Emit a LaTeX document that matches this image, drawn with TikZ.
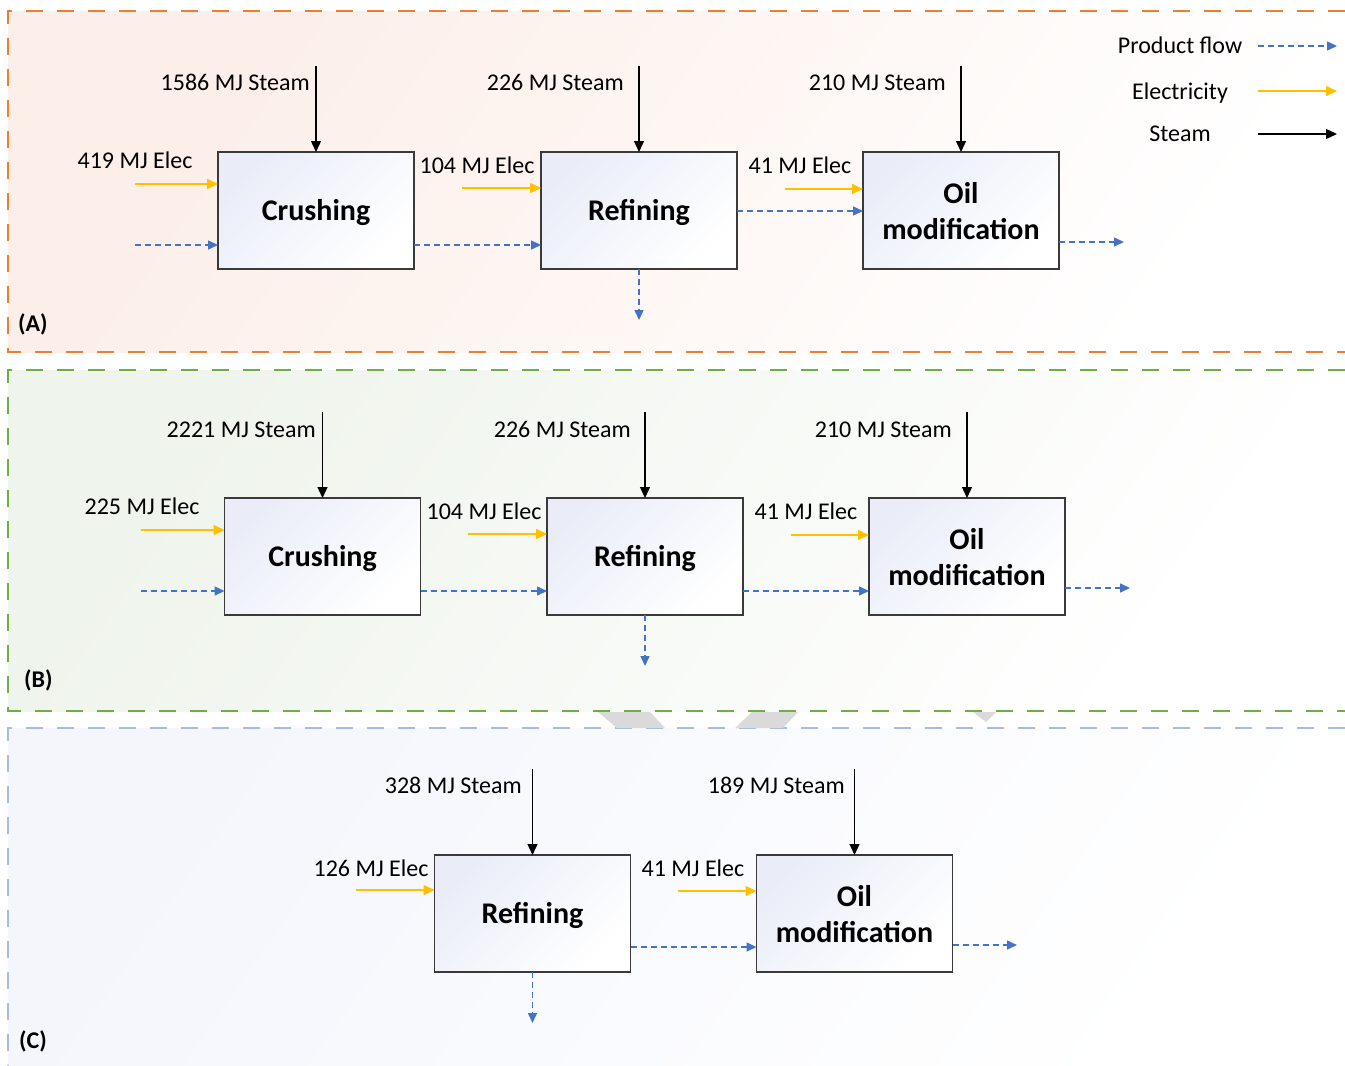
\documentclass[tikz,border=0pt]{standalone}
\usepackage{fontspec}
\setmainfont{Carlito}
\usetikzlibrary{arrows.meta,calc}
\definecolor{pflow}{HTML}{4472C4}
\definecolor{elec}{HTML}{FFC000}
\definecolor{oA}{HTML}{ED7D31}
\definecolor{gB}{HTML}{70AD47}
\definecolor{bC}{HTML}{A6BBDF}
\definecolor{bxline}{HTML}{3A3A3A}
\definecolor{bxfill}{HTML}{EAEDF8}
\definecolor{pinkA}{HTML}{FCEEE8}
\definecolor{pinkAm}{HTML}{FEF8F6}
\definecolor{greenB}{HTML}{EFF4EC}
\definecolor{greenBm}{HTML}{F9FBF8}
\definecolor{blueC}{HTML}{F4F6FC}
\definecolor{blueCm}{HTML}{FBFCFE}
\definecolor{ghost}{HTML}{DADADA}
\begin{document}
\begin{tikzpicture}[x=1pt,y=-1pt,
  procbox/.style={draw=bxline, line width=1.2pt, outer sep=0pt, minimum width=196pt, minimum height=117pt, inner sep=0pt, top color=bxfill, bottom color=white, shading angle=45},
  boxtxt/.style={font=\fontsize{30}{36}\selectfont\bfseries, inner sep=0pt, anchor=base},
  lbl/.style={font=\fontsize{24}{28}\selectfont, inner sep=0pt, anchor=base},
  lble/.style={font=\fontsize{24}{28}\selectfont, inner sep=0pt, anchor=base east},
  plbl/.style={font=\fontsize{24}{28}\selectfont\bfseries, inner sep=0pt, anchor=base west},
  flow/.style={draw=pflow, line width=1.5pt, dash pattern=on 6pt off 4pt, -{Triangle[length=10pt,width=9pt,fill=pflow]}},
  el/.style={draw=elec, line width=1.6pt, -{Triangle[length=11pt,width=10pt,fill=elec]}},
  st/.style={draw=black, line width=1.3pt, -{Triangle[length=11pt,width=10pt,fill=black]}},
  panelline/.style={line width=1.3pt, dash pattern=on 17pt off 14pt}
]
\useasboundingbox (0,0) rectangle (1345,1066);
% panel backgrounds
\shade[top color=pinkA, middle color=pinkAm, bottom color=white, shading angle=55] (8,11) rectangle (1345,352);
\shade[top color=greenB, middle color=greenBm, bottom color=white, shading angle=55] (8,370) rectangle (1345,711);
\shade[top color=blueC, middle color=blueCm, bottom color=white, shading angle=55] (8,728) rectangle (1345,1066);
% panel borders
\draw[panelline, draw=oA] (1345,11) -- (8,11) -- (8,352) -- (1345,352);
\draw[panelline, draw=gB] (1345,370) -- (8,370) -- (8,711) -- (1345,711);
\draw[panelline, draw=bC] (1345,728) -- (8,728) -- (8,1066);
% grey remnants between B and C
\fill[ghost] (598,712) -- (650,712) -- (665,728) -- (617,728) -- cycle;
\fill[ghost] (752,712) -- (798,712) -- (783,728) -- (735,728) -- cycle;
\fill[ghost] (973,712) -- (996,712) -- (986,722) -- cycle;

% ---------------- Legend ----------------
\node[lbl] (lgp) at (1180,53) {Product flow};
\node[lbl] (lge) at (1180,99) {Electricity};
\node[lbl] (lgs) at (1180,141) {Steam};
\coordinate (lgp1) at (1258,46); \coordinate (lgp2) at (1337,46);
\coordinate (lge1) at (1258,91); \coordinate (lge2) at (1337,91);
\coordinate (lgs1) at (1258,134); \coordinate (lgs2) at (1337,134);
\draw[flow] (lgp1) -- (lgp2);
\draw[el] (lge1) -- (lge2);
\draw[st] (lgs1) -- (lgs2);

% ---------------- Panel A ----------------
\node[procbox] (crA) at (316,210.5) {};
\node[procbox] (rfA) at (639,210.5) {};
\node[procbox] (omA) at (961,210.5) {};
\node[boxtxt] (crAt) at (316,220) {Crushing};
\node[boxtxt] (rfAt) at (639,220) {Refining};
\node[boxtxt] (omAt1) at (961,203) {Oil};
\node[boxtxt] (omAt2) at (961,239) {modification};
\node[plbl] (labA) at (18,331) {(A)};

\node[lble] (sAl1) at (310,90) {1586 MJ Steam};
\node[lble] (sAl2) at (624,90) {226 MJ Steam};
\node[lble] (sAl3) at (946,90) {210 MJ Steam};
\coordinate (sA1) at (316,66); \coordinate (sA2) at (639,66); \coordinate (sA3) at (961,66);
\draw[st] (sA1) -- (crA.north);
\draw[st] (sA2) -- (rfA.north);
\draw[st] (sA3) -- (omA.north);

\node[lbl] (eAl1) at (135,168) {419 MJ Elec};
\node[lbl] (eAl2) at (477,173) {104 MJ Elec};
\node[lbl] (eAl3) at (800,173) {41 MJ Elec};
\coordinate (eA1) at (135,184); \coordinate (eA2) at (462,188); \coordinate (eA3) at (785,189);
\draw[el] (eA1) -- (eA1 -| crA.west);
\draw[el] (eA2) -- (eA2 -| rfA.west);
\draw[el] (eA3) -- (eA3 -| omA.west);

\coordinate (pA0) at (135,245);
\draw[flow] (pA0) -- (pA0 -| crA.west);
\draw[flow] ([yshift=24pt]crA.south east) -- ([yshift=24pt]rfA.south west);
\draw[flow] ([yshift=-0.5pt]rfA.east) -- ([yshift=-0.5pt]omA.west);
\coordinate (pAout) at (1124,242);
\draw[flow] (pAout -| omA.east) -- (pAout);
\coordinate (pAdn) at (639,320);
\draw[flow] (rfA.south) -- (pAdn);

% ---------------- Panel B ----------------
\node[procbox] (crB) at (322.5,556.5) {};
\node[procbox] (rfB) at (645,556.5) {};
\node[procbox] (omB) at (967,556.5) {};
\node[boxtxt] (crBt) at (322.5,566) {Crushing};
\node[boxtxt] (rfBt) at (645,566) {Refining};
\node[boxtxt] (omBt1) at (967,549) {Oil};
\node[boxtxt] (omBt2) at (967,585) {modification};
\node[plbl] (labB) at (24,687) {(B)};

\node[lble] (sBl1) at (316,437) {2221 MJ Steam};
\node[lble] (sBl2) at (631,437) {226 MJ Steam};
\node[lble] (sBl3) at (952,437) {210 MJ Steam};
\coordinate (sB1) at (322.5,412); \coordinate (sB2) at (645,412); \coordinate (sB3) at (967,412);
\draw[st] (sB1) -- (crB.north);
\draw[st] (sB2) -- (rfB.north);
\draw[st] (sB3) -- (omB.north);

\node[lbl] (eBl1) at (142,514) {225 MJ Elec};
\node[lbl] (eBl2) at (484,519) {104 MJ Elec};
\node[lbl] (eBl3) at (806,519) {41 MJ Elec};
\coordinate (eB1) at (141,530); \coordinate (eB2) at (468,534); \coordinate (eB3) at (791,535);
\draw[el] (eB1) -- (eB1 -| crB.west);
\draw[el] (eB2) -- (eB2 -| rfB.west);
\draw[el] (eB3) -- (eB3 -| omB.west);

\coordinate (pB0) at (141,591);
\draw[flow] (pB0) -- (pB0 -| crB.west);
\draw[flow] ([yshift=24pt]crB.south east) -- ([yshift=24pt]rfB.south west);
\draw[flow] ([yshift=24pt]rfB.south east) -- ([yshift=24pt]omB.south west);
\coordinate (pBout) at (1130,588);
\draw[flow] (pBout -| omB.east) -- (pBout);
\coordinate (pBdn) at (645,666);
\draw[flow] (rfB.south) -- (pBdn);

% ---------------- Panel C ----------------
\node[procbox] (rfC) at (532.5,913.5) {};
\node[procbox] (omC) at (854.5,913.5) {};
\node[boxtxt] (rfCt) at (532.5,923) {Refining};
\node[boxtxt] (omCt1) at (854.5,906) {Oil};
\node[boxtxt] (omCt2) at (854.5,942) {modification};
\node[plbl] (labC) at (19,1048) {(C)};

\node[lble] (sCl1) at (522,793) {328 MJ Steam};
\node[lble] (sCl2) at (845,793) {189 MJ Steam};
\coordinate (sC1) at (532.5,769); \coordinate (sC2) at (854.5,769);
\draw[st] (sC1) -- (rfC.north);
\draw[st] (sC2) -- (omC.north);

\node[lbl] (eCl1) at (371,876) {126 MJ Elec};
\node[lbl] (eCl2) at (693,876) {41 MJ Elec};
\coordinate (eC1) at (356,890); \coordinate (eC2) at (678,891);
\draw[el] (eC1) -- (eC1 -| rfC.west);
\draw[el] (eC2) -- (eC2 -| omC.west);

\draw[flow] ([yshift=25pt]rfC.south east) -- ([yshift=25pt]omC.south west);
\coordinate (pCout) at (1017,945);
\draw[flow] (pCout -| omC.east) -- (pCout);
\coordinate (pCdn) at (532.5,1023);
\draw[flow] (rfC.south) -- (pCdn);
\end{tikzpicture}
\end{document}
